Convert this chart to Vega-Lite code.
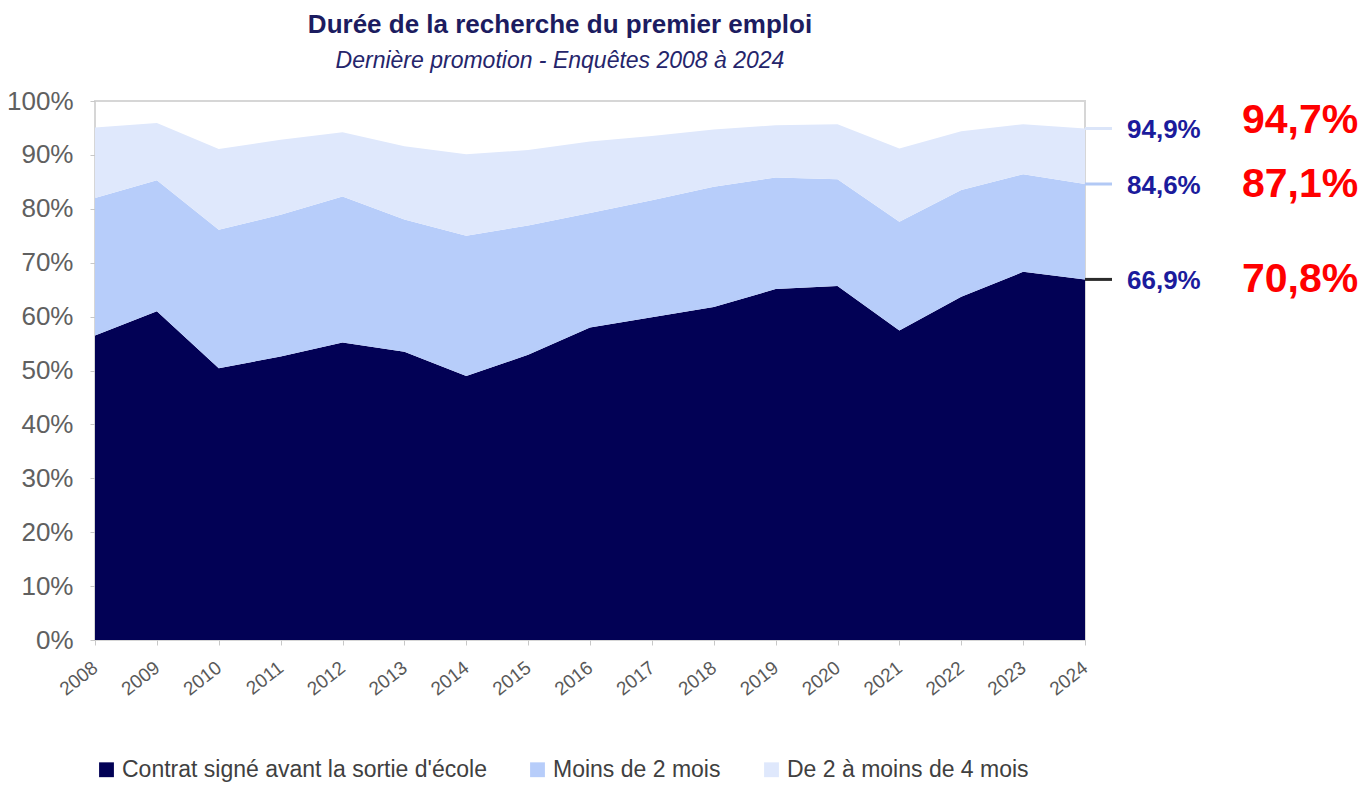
{
  "$schema": "https://vega.github.io/schema/vega-lite/v6.json",
  "autosize": {"type": "none"},
  "width": 990,
  "height": 539,
  "padding": {"left": 95, "top": 101, "right": 281, "bottom": 145},
  "background": "white",
  "config": {
    "view": {"stroke": "#d6d6d6", "strokeWidth": 2},
    "font": "Liberation Sans Narrow, Liberation Sans, sans-serif"
  },
  "title": {
    "text": "Durée de la recherche du premier emploi",
    "subtitle": "Dernière promotion - Enquêtes 2008 à 2024",
    "anchor": "middle",
    "dx": -30,
    "offset": 15,
    "font": "Liberation Sans Narrow, Liberation Sans, sans-serif",
    "fontSize": 26,
    "fontWeight": "bold",
    "color": "#1c1c60",
    "subtitleFont": "Liberation Sans Narrow, Liberation Sans, sans-serif",
    "subtitleFontSize": 23,
    "subtitleFontStyle": "italic",
    "subtitleColor": "#25256b",
    "subtitlePadding": 12
  },
  "datasets": {
    "main": [
      {"year": 2008, "cat": "Contrat signé avant la sortie d'école", "k": 1, "v": 56.5},
      {"year": 2008, "cat": "Moins de 2 mois", "k": 2, "v": 25.5},
      {"year": 2008, "cat": "De 2 à moins de 4 mois", "k": 3, "v": 13.1},
      {"year": 2009, "cat": "Contrat signé avant la sortie d'école", "k": 1, "v": 61.0},
      {"year": 2009, "cat": "Moins de 2 mois", "k": 2, "v": 24.3},
      {"year": 2009, "cat": "De 2 à moins de 4 mois", "k": 3, "v": 10.6},
      {"year": 2010, "cat": "Contrat signé avant la sortie d'école", "k": 1, "v": 50.4},
      {"year": 2010, "cat": "Moins de 2 mois", "k": 2, "v": 25.7},
      {"year": 2010, "cat": "De 2 à moins de 4 mois", "k": 3, "v": 15.0},
      {"year": 2011, "cat": "Contrat signé avant la sortie d'école", "k": 1, "v": 52.6},
      {"year": 2011, "cat": "Moins de 2 mois", "k": 2, "v": 26.3},
      {"year": 2011, "cat": "De 2 à moins de 4 mois", "k": 3, "v": 13.9},
      {"year": 2012, "cat": "Contrat signé avant la sortie d'école", "k": 1, "v": 55.2},
      {"year": 2012, "cat": "Moins de 2 mois", "k": 2, "v": 27.1},
      {"year": 2012, "cat": "De 2 à moins de 4 mois", "k": 3, "v": 11.9},
      {"year": 2013, "cat": "Contrat signé avant la sortie d'école", "k": 1, "v": 53.5},
      {"year": 2013, "cat": "Moins de 2 mois", "k": 2, "v": 24.5},
      {"year": 2013, "cat": "De 2 à moins de 4 mois", "k": 3, "v": 13.6},
      {"year": 2014, "cat": "Contrat signé avant la sortie d'école", "k": 1, "v": 49.0},
      {"year": 2014, "cat": "Moins de 2 mois", "k": 2, "v": 26.0},
      {"year": 2014, "cat": "De 2 à moins de 4 mois", "k": 3, "v": 15.1},
      {"year": 2015, "cat": "Contrat signé avant la sortie d'école", "k": 1, "v": 52.9},
      {"year": 2015, "cat": "Moins de 2 mois", "k": 2, "v": 24.0},
      {"year": 2015, "cat": "De 2 à moins de 4 mois", "k": 3, "v": 14.0},
      {"year": 2016, "cat": "Contrat signé avant la sortie d'école", "k": 1, "v": 58.0},
      {"year": 2016, "cat": "Moins de 2 mois", "k": 2, "v": 21.2},
      {"year": 2016, "cat": "De 2 à moins de 4 mois", "k": 3, "v": 13.3},
      {"year": 2017, "cat": "Contrat signé avant la sortie d'école", "k": 1, "v": 59.9},
      {"year": 2017, "cat": "Moins de 2 mois", "k": 2, "v": 21.7},
      {"year": 2017, "cat": "De 2 à moins de 4 mois", "k": 3, "v": 11.9},
      {"year": 2018, "cat": "Contrat signé avant la sortie d'école", "k": 1, "v": 61.8},
      {"year": 2018, "cat": "Moins de 2 mois", "k": 2, "v": 22.3},
      {"year": 2018, "cat": "De 2 à moins de 4 mois", "k": 3, "v": 10.6},
      {"year": 2019, "cat": "Contrat signé avant la sortie d'école", "k": 1, "v": 65.1},
      {"year": 2019, "cat": "Moins de 2 mois", "k": 2, "v": 20.7},
      {"year": 2019, "cat": "De 2 à moins de 4 mois", "k": 3, "v": 9.7},
      {"year": 2020, "cat": "Contrat signé avant la sortie d'école", "k": 1, "v": 65.7},
      {"year": 2020, "cat": "Moins de 2 mois", "k": 2, "v": 19.8},
      {"year": 2020, "cat": "De 2 à moins de 4 mois", "k": 3, "v": 10.2},
      {"year": 2021, "cat": "Contrat signé avant la sortie d'école", "k": 1, "v": 57.4},
      {"year": 2021, "cat": "Moins de 2 mois", "k": 2, "v": 20.2},
      {"year": 2021, "cat": "De 2 à moins de 4 mois", "k": 3, "v": 13.6},
      {"year": 2022, "cat": "Contrat signé avant la sortie d'école", "k": 1, "v": 63.7},
      {"year": 2022, "cat": "Moins de 2 mois", "k": 2, "v": 19.8},
      {"year": 2022, "cat": "De 2 à moins de 4 mois", "k": 3, "v": 10.9},
      {"year": 2023, "cat": "Contrat signé avant la sortie d'école", "k": 1, "v": 68.3},
      {"year": 2023, "cat": "Moins de 2 mois", "k": 2, "v": 18.1},
      {"year": 2023, "cat": "De 2 à moins de 4 mois", "k": 3, "v": 9.3},
      {"year": 2024, "cat": "Contrat signé avant la sortie d'école", "k": 1, "v": 66.9},
      {"year": 2024, "cat": "Moins de 2 mois", "k": 2, "v": 17.7},
      {"year": 2024, "cat": "De 2 à moins de 4 mois", "k": 3, "v": 10.3}
    ],
    "ann": [
      {"year": 2024, "cat": "De 2 à moins de 4 mois", "v": 94.9, "lab": "94,9%", "red": "94,7%"},
      {"year": 2024, "cat": "Moins de 2 mois", "v": 84.6, "lab": "84,6%", "red": "87,1%"},
      {"year": 2024, "cat": "Contrat signé avant la sortie d'école", "v": 66.9, "lab": "66,9%", "red": "70,8%"}
    ]
  },
  "layer": [
    {
      "data": {"name": "main"},
      "mark": {"type": "area", "opacity": 1},
      "encoding": {
        "x": {
          "field": "year", "type": "quantitative",
          "scale": {"domain": [2008, 2024], "nice": false, "zero": false},
          "axis": {
            "title": null, "grid": false, "domain": false,
            "values": [2008, 2009, 2010, 2011, 2012, 2013, 2014, 2015, 2016, 2017, 2018, 2019, 2020, 2021, 2022, 2023, 2024],
            "format": "d", "labelAngle": -38, "labelAlign": "right", "labelBaseline": "middle",
            "labelFontSize": 19, "labelColor": "#595959", "labelPadding": 20,
            "tickSize": 5, "tickColor": "#c8c8c8"
          }
        },
        "y": {
          "field": "v", "type": "quantitative", "stack": "zero",
          "scale": {"domain": [0, 100], "nice": false},
          "axis": {
            "title": null, "grid": false, "domain": false,
            "values": [0, 10, 20, 30, 40, 50, 60, 70, 80, 90, 100],
            "labelExpr": "datum.value + '%'",
            "labelFontSize": 26, "labelColor": "#606060", "labelPadding": 17,
            "tickSize": 5, "tickColor": "#c8c8c8"
          }
        },
        "order": {"field": "k", "type": "quantitative"},
        "color": {
          "field": "cat", "type": "nominal",
          "scale": {
            "domain": ["Contrat signé avant la sortie d'école", "Moins de 2 mois", "De 2 à moins de 4 mois"],
            "range": ["#020155", "#b7cdfa", "#dfe8fc"]
          },
          "legend": {
            "title": null, "orient": "none", "legendX": 0, "legendY": 657,
            "direction": "horizontal", "symbolType": "square", "symbolSize": 220,
            "symbolStrokeWidth": 0, "labelFontSize": 23, "labelColor": "#404040",
            "columnPadding": 39, "labelOffset": 4, "labelLimit": 500
          }
        }
      }
    },
    {
      "data": {"name": "ann"},
      "mark": {"type": "rule", "strokeWidth": 3, "x2Offset": 27},
      "encoding": {
        "x": {"field": "year", "type": "quantitative"},
        "x2": {"field": "year"},
        "y": {"field": "v", "type": "quantitative"},
        "stroke": {
          "field": "cat", "type": "nominal",
          "scale": {
            "domain": ["Contrat signé avant la sortie d'école", "Moins de 2 mois", "De 2 à moins de 4 mois"],
            "range": ["#2b2b2b", "#b2c9f5", "#dbe5f9"]
          },
          "legend": null
        }
      }
    },
    {
      "data": {"name": "ann"},
      "mark": {"type": "text", "dx": 42, "dy": 2, "align": "left", "baseline": "middle", "font": "Liberation Sans, sans-serif", "fontWeight": "bold", "fontSize": 26, "color": "#1b1b9c"},
      "encoding": {
        "x": {"field": "year", "type": "quantitative"},
        "y": {"field": "v", "type": "quantitative"},
        "text": {"field": "lab"}
      }
    },
    {
      "data": {"name": "ann"},
      "transform": [{"filter": "datum.v > 90"}],
      "mark": {"type": "text", "dx": 157, "dy": -7, "align": "left", "baseline": "middle", "font": "Liberation Sans, sans-serif", "fontWeight": "bold", "fontSize": 41, "color": "#ff0000"},
      "encoding": {
        "x": {"field": "year", "type": "quantitative"},
        "y": {"field": "v", "type": "quantitative"},
        "text": {"field": "red"}
      }
    },
    {
      "data": {"name": "ann"},
      "transform": [{"filter": "datum.v < 90"}],
      "mark": {"type": "text", "dx": 157, "dy": 1, "align": "left", "baseline": "middle", "font": "Liberation Sans, sans-serif", "fontWeight": "bold", "fontSize": 41, "color": "#ff0000"},
      "encoding": {
        "x": {"field": "year", "type": "quantitative"},
        "y": {"field": "v", "type": "quantitative"},
        "text": {"field": "red"}
      }
    }
  ],
  "resolve": {"scale": {"color": "independent", "stroke": "independent"}}
}
